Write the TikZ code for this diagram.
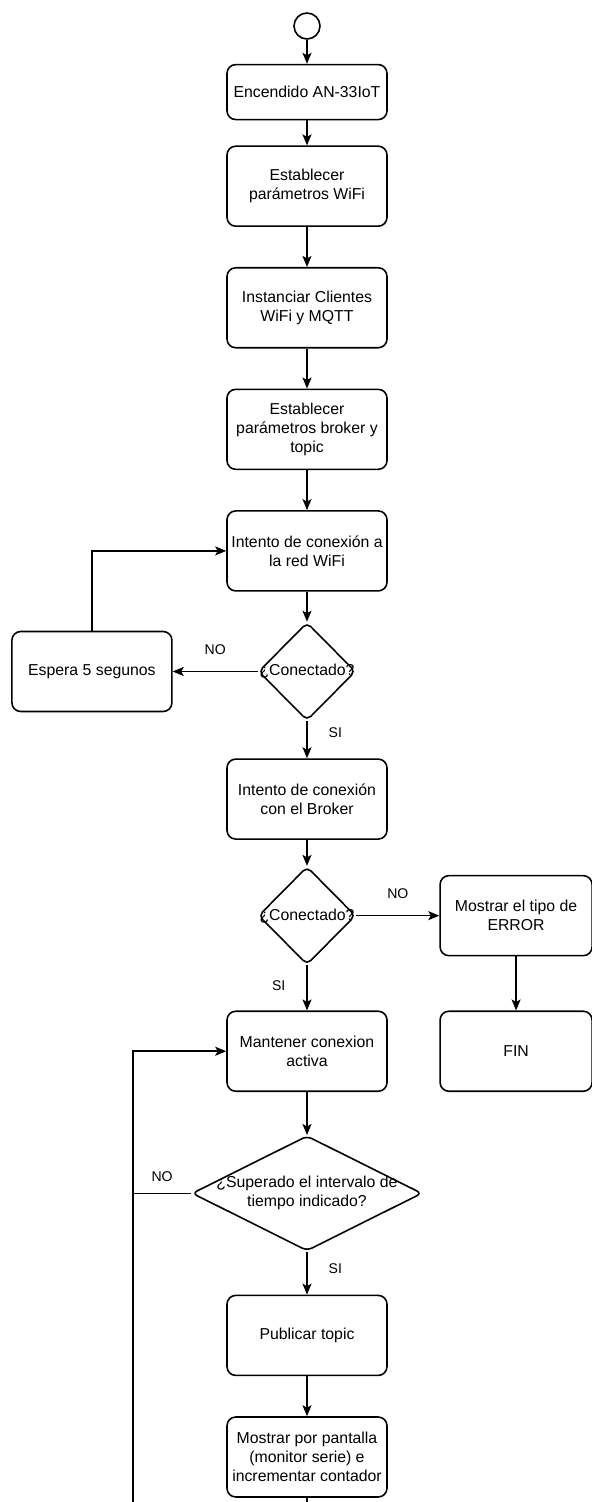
\documentclass[tikz,border=0pt]{standalone}
\usepackage{fontspec}
\setmainfont{Liberation Sans}
\usetikzlibrary{positioning,arrows.meta,shapes.geometric}
\newcommand{\txt}{\fontsize{9}{10.8}\selectfont}
\tikzset{
  box/.style   ={draw, rounded corners=5pt, minimum height=16mm,
                 minimum width=32mm, align=center, font=\txt,
                 line width=0.9pt, inner sep=1pt},
  short/.style ={box, minimum height=11mm},
  side/.style  ={box, minimum width=30.4mm},
  startc/.style={circle, draw, line width=0.9pt, inner sep=0pt, minimum size=5.2mm},
  dec/.style   ={diamond, draw, line width=0.9pt, rounded corners=3pt,
                 inner sep=0pt, minimum width=19.4mm, minimum height=19.6mm,
                 label={[font=\txt, align=center]center:{#1}}},
  decw/.style  ={dec={#1}, minimum width=46mm, minimum height=23mm},
  fl/.style    ={-{Stealth[length=2.2mm, width=1.8mm, inset=0.5mm]}, line width=0.9pt},
  ln/.style    ={line width=0.9pt},
  yn/.style    ={font=\fontsize{8}{9.6}\selectfont},
}

\begin{document}
\begin{tikzpicture}[node distance=8mm]
  \useasboundingbox (0,0) rectangle (11.84,-30.04);

  \node[startc] (start) at (6.14,-0.52) {};
  \node[short, below=4.8mm of start] (enc) {Encendido AN-33IoT};
  \node[box, below=5mm of enc] (wifi) {Establecer\\ parámetros WiFi};
  \node[box, below=of wifi] (cli) {Instanciar Clientes\\ WiFi y MQTT};
  \node[box, below=of cli] (brk) {Establecer\\ parámetros broker y\\ topic};
  \node[box, below=of brk] (red) {Intento de conexión a\\ la red WiFi};

  % first check: WiFi
  \node[dec={¿Conectado?}, below=6mm of red] (con1) {};
  \node[box, left=17mm of con1] (esp) {Espera 5 segunos};

  \node[box, below=7.4mm of con1] (brkc) {Intento de conexión\\ con el Broker};

  % second check: broker
  \node[dec={¿Conectado?}, below=5.2mm of brkc] (con2) {};
  \node[side, right=16.6mm of con2] (err) {Mostrar el tipo de\\ ERROR};
  \node[side, below=10.8mm of err] (fin) {FIN};

  \node[box, below=9mm of con2] (keep) {Mantener conexion\\ activa};
  \node[decw={¿Superado el intervalo de\\ tiempo indicado?}, below=8.6mm of keep] (con3) {};
  \node[box, below=8.6mm of con3] (pub) {Publicar topic};
  \node[box, below=of pub] (show) {Mostrar por pantalla\\ (monitor serie) e\\ incrementar contador};

  \coordinate (bot) at (2.66,-30.04);

  \draw[fl] (start) -- (enc);
  \draw[fl] (enc) -- (wifi);
  \draw[fl] (wifi) -- (cli);
  \draw[fl] (cli) -- (brk);
  \draw[fl] (brk) -- (red);
  \draw[fl] (red) -- (con1);
  \draw[fl] (con1) -- (esp) node[yn, midway, above=2mm] {NO};
  \draw[fl] (esp.north) |- (red.west);
  \draw[fl] (con1) -- (brkc) node[yn, pos=0.3, right=3mm] {SI};
  \draw[fl] (brkc) -- (con2);
  \draw[fl] (con2) -- (err) node[yn, midway, above=2mm] {NO};
  \draw[fl] (err) -- (fin);
  \draw[fl] (con2) -- (keep) node[yn, pos=0.45, left=3mm] {SI};
  \draw[fl] (keep) -- (con3);
  \draw[fl] (con3) -- (pub) node[yn, pos=0.4, right=3mm] {SI};
  \draw[fl] (pub) -- (show);

  % loop back
  \draw[ln] (show.south) -- (show.south |- bot);
  \draw[fl] (bot) |- (keep.west);
  \draw[ln] (con3.west) -- (con3.west -| bot) node[yn, midway, above=1mm] {NO};
\end{tikzpicture}
\end{document}
